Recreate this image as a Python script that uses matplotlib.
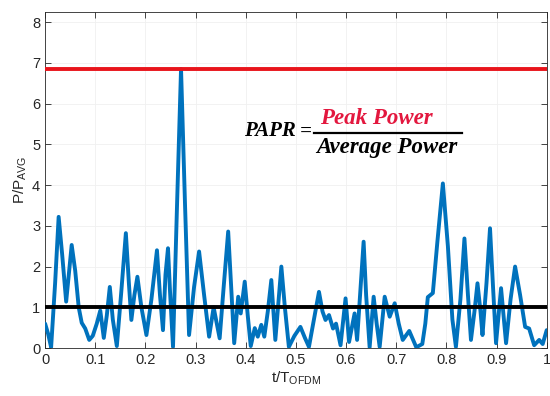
import matplotlib
matplotlib.use("Agg")
import matplotlib.pyplot as plt

# ---- data ----
t = [0.000, 0.006, 0.012, 0.020, 0.027, 0.034, 0.042, 0.048, 0.053, 0.060,
     0.067, 0.073, 0.080, 0.088, 0.095, 0.103, 0.110, 0.117, 0.123, 0.129,
     0.135, 0.143, 0.152, 0.161, 0.167, 0.172, 0.178, 0.184, 0.192, 0.202,
     0.212, 0.223, 0.229, 0.235, 0.240, 0.245, 0.249, 0.255, 0.263, 0.271,
     0.279, 0.287, 0.297, 0.307, 0.317, 0.327, 0.336, 0.348, 0.356, 0.365,
     0.371, 0.377, 0.385, 0.390, 0.398, 0.404, 0.410, 0.418, 0.424, 0.431,
     0.437, 0.444, 0.451, 0.459, 0.465, 0.471, 0.478, 0.486, 0.497, 0.509,
     0.518, 0.526, 0.536, 0.546, 0.553, 0.559, 0.566, 0.574, 0.580, 0.589,
     0.599, 0.606, 0.617, 0.622, 0.628, 0.635, 0.640, 0.647, 0.655, 0.661,
     0.667, 0.677, 0.687, 0.697, 0.705, 0.713, 0.726, 0.740, 0.752, 0.758,
     0.763, 0.773, 0.782, 0.793, 0.803, 0.812, 0.819, 0.828, 0.836, 0.843,
     0.849, 0.856, 0.862, 0.868, 0.872, 0.880, 0.887, 0.893, 0.899, 0.904,
     0.909, 0.914, 0.919, 0.928, 0.937, 0.947, 0.957, 0.965, 0.975, 0.985,
     0.992, 1.000]
p = [0.60, 0.35, 0.02, 1.60, 3.22, 2.30, 1.14, 1.90, 2.53, 1.90,
     1.00, 0.62, 0.48, 0.20, 0.30, 0.60, 0.92, 0.25, 0.80, 1.50,
     0.70, 0.05, 1.40, 2.82, 1.60, 0.69, 1.30, 1.75, 1.00, 0.32,
     1.20, 2.40, 1.30, 0.44, 1.80, 2.45, 1.40, 0.03, 3.50, 6.85,
     3.50, 0.32, 1.50, 2.37, 1.30, 0.28, 1.00, 0.24, 1.50, 2.86,
     1.50, 0.12, 1.26, 0.85, 1.63, 0.80, 0.05, 0.49, 0.28, 0.57,
     0.28, 0.90, 1.67, 0.20, 1.10, 2.00, 1.00, 0.03, 0.30, 0.52,
     0.25, 0.03, 0.70, 1.38, 0.90, 0.69, 0.81, 0.48, 0.60, 0.07,
     1.22, 0.15, 0.85, 0.20, 1.30, 2.61, 1.30, 0.02, 1.26, 0.60,
     0.03, 1.26, 0.77, 1.10, 0.60, 0.20, 0.42, 0.02, 0.10, 0.60,
     1.25, 1.35, 2.60, 4.04, 2.50, 0.70, 0.03, 1.20, 2.69, 1.30,
     0.20, 0.90, 1.59, 0.90, 0.32, 1.60, 2.94, 1.50, 0.12, 0.80,
     1.47, 0.80, 0.12, 1.20, 2.00, 1.30, 0.52, 0.48, 0.07, 0.20,
     0.10, 0.44]
peak_level = 6.85
avg_level = 1.0
xticks = [0, 0.1, 0.2, 0.3, 0.4, 0.5, 0.6, 0.7, 0.8, 0.9, 1]
xticklabels = ["0", "0.1", "0.2", "0.3", "0.4", "0.5", "0.6", "0.7", "0.8", "0.9", "1"]
yticks = [0, 1, 2, 3, 4, 5, 6, 7, 8]

plt.rcParams['font.family'] = ['Liberation Sans', 'DejaVu Sans']

fig = plt.figure(figsize=(5.5, 3.96), dpi=100)
ax = fig.add_axes([0.082, 0.121, 0.912, 0.849])

ax.plot(t, p, color='#0072BD', lw=2.8, solid_joinstyle='round', solid_capstyle='round', zorder=3)
ax.axhline(peak_level, color='#E8141B', lw=2.8, zorder=4)
ax.axhline(avg_level, color='black', lw=2.8, zorder=4)

ax.set_xlim(0, 1)
ax.set_ylim(0, 8.25)
ax.set_xticks(xticks)
ax.set_xticklabels(xticklabels)
ax.set_yticks(yticks)
ax.grid(True, color='#f0f0f0', lw=0.6, zorder=0)
ax.tick_params(direction='in', top=True, right=True, length=4, width=0.6,
               colors='#262626', labelsize=10.5)
for s in ax.spines.values():
    s.set_color('#262626')
    s.set_linewidth(0.6)

ax.set_xlabel(r'$\mathregular{t/T_{OFDM}}$', fontsize=11, color='#262626', labelpad=2)
ax.set_ylabel(r'$\mathregular{P/P_{AVG}}$', fontsize=11, color='#262626', labelpad=2)

# PAPR formula
ff = dict(family=['Liberation Serif', 'DejaVu Serif'], weight='bold', style='italic')
fig.text(244/550, 1-131/396, 'PAPR', ha='left', va='center', color='black', fontsize=15, **ff)
fig.text(306/550, 1-132/396, '=', ha='center', va='center', color='black', fontsize=15, **ff)
fig.text(376/550, 1-118/396, 'Peak Power', ha='center', va='center', color='#E3173E', fontsize=16.5, **ff)
fig.text(387/550, 1-147/396, 'Average Power', ha='center', va='center', color='black', fontsize=16.5, **ff)
fig.add_artist(plt.Line2D([314/550, 462/550], [1-133/396, 1-133/396], color='black', lw=1.6))

fig.savefig('out.png', dpi=100)
